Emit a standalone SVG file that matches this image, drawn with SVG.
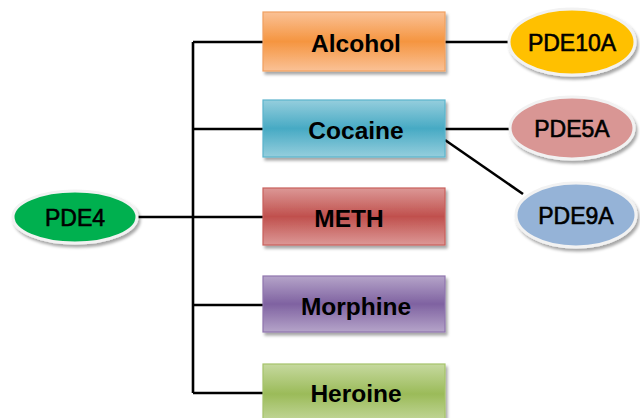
<svg xmlns="http://www.w3.org/2000/svg" width="640" height="418" viewBox="0 0 640 418">
<style>
.box{stroke-width:1.2}
.lbl{font-family:"Liberation Sans",Arial,sans-serif;font-weight:bold;font-size:24.5px;fill:#000;text-anchor:middle;dominant-baseline:central}
.el{font-family:"Liberation Sans",Arial,sans-serif;font-size:23px;fill:#000;text-anchor:middle;dominant-baseline:central;stroke:#000;stroke-width:0.6}
.ell{stroke:#f2f2f2;stroke-width:3}
.con{stroke:#000;stroke-width:2.6;fill:none}
</style>
<defs>
<linearGradient id="gO" x1="0" y1="0" x2="0" y2="1"><stop offset="0" stop-color="#fac196"/><stop offset="0.5" stop-color="#f59540"/><stop offset="1" stop-color="#fac196"/></linearGradient>
<linearGradient id="gC" x1="0" y1="0" x2="0" y2="1"><stop offset="0" stop-color="#95cedd"/><stop offset="0.5" stop-color="#47aac4"/><stop offset="1" stop-color="#95cedd"/></linearGradient>
<linearGradient id="gM" x1="0" y1="0" x2="0" y2="1"><stop offset="0" stop-color="#dc9896"/><stop offset="0.5" stop-color="#c0504d"/><stop offset="1" stop-color="#dc9896"/></linearGradient>
<linearGradient id="gP" x1="0" y1="0" x2="0" y2="1"><stop offset="0" stop-color="#b5a4c9"/><stop offset="0.5" stop-color="#7f62a1"/><stop offset="1" stop-color="#b5a4c9"/></linearGradient>
<linearGradient id="gG" x1="0" y1="0" x2="0" y2="1"><stop offset="0" stop-color="#c6d99f"/><stop offset="0.5" stop-color="#9bbb59"/><stop offset="1" stop-color="#c6d99f"/></linearGradient>
<filter id="sh" x="-10%" y="-10%" width="125%" height="130%"><feDropShadow dx="2" dy="3" stdDeviation="1.5" flood-color="#000" flood-opacity="0.35"/></filter>
</defs>
<g id="connectors">
<line class="con" x1="193" y1="42" x2="193" y2="393"/>
<line class="con" x1="193" y1="42" x2="263" y2="42"/>
<line class="con" x1="193" y1="129" x2="263" y2="129"/>
<line class="con" x1="137" y1="217" x2="263" y2="217"/>
<line class="con" x1="193" y1="305" x2="263" y2="305"/>
<line class="con" x1="193" y1="393" x2="263" y2="393"/>
<line class="con" x1="445" y1="42" x2="509" y2="42"/>
<line class="con" x1="445" y1="129" x2="510" y2="129"/>
<line class="con" x1="445" y1="140" x2="523" y2="194"/>
</g>
<g id="alcohol"><rect class="box" x="263" y="12" width="182" height="59" fill="url(#gO)" stroke="#f0a060" filter="url(#sh)"/><text class="lbl" x="356" y="43">Alcohol</text></g>
<g id="cocaine"><rect class="box" x="263" y="100" width="182" height="57" fill="url(#gC)" stroke="#5ab4cc" filter="url(#sh)"/><text class="lbl" x="356" y="130">Cocaine</text></g>
<g id="meth"><rect class="box" x="263" y="188" width="182" height="57" fill="url(#gM)" stroke="#c8605c" filter="url(#sh)"/><text class="lbl" x="349" y="218">METH</text></g>
<g id="morphine"><rect class="box" x="263" y="276" width="182" height="56" fill="url(#gP)" stroke="#8f75ad" filter="url(#sh)"/><text class="lbl" x="356" y="306">Morphine</text></g>
<g id="heroine"><rect class="box" x="263" y="364" width="182" height="60" fill="url(#gG)" stroke="#a6c46a" filter="url(#sh)"/><text class="lbl" x="356" y="393">Heroine</text></g>
<g id="pde4"><ellipse class="ell" cx="75" cy="217" rx="62" ry="26" fill="#00b050" filter="url(#sh)"/><text class="el" x="75" y="218">PDE4</text></g>
<g id="pde10a"><ellipse class="ell" cx="572" cy="42" rx="63" ry="33" fill="#ffc000" filter="url(#sh)"/><text class="el" x="572" y="43">PDE10A</text></g>
<g id="pde5a"><ellipse class="ell" cx="572" cy="128" rx="62" ry="31" fill="#d99694" filter="url(#sh)"/><text class="el" x="572" y="129">PDE5A</text></g>
<g id="pde9a"><ellipse class="ell" cx="576" cy="215" rx="60" ry="32" fill="#95b3d7" filter="url(#sh)"/><text class="el" x="576" y="216">PDE9A</text></g>
</svg>
